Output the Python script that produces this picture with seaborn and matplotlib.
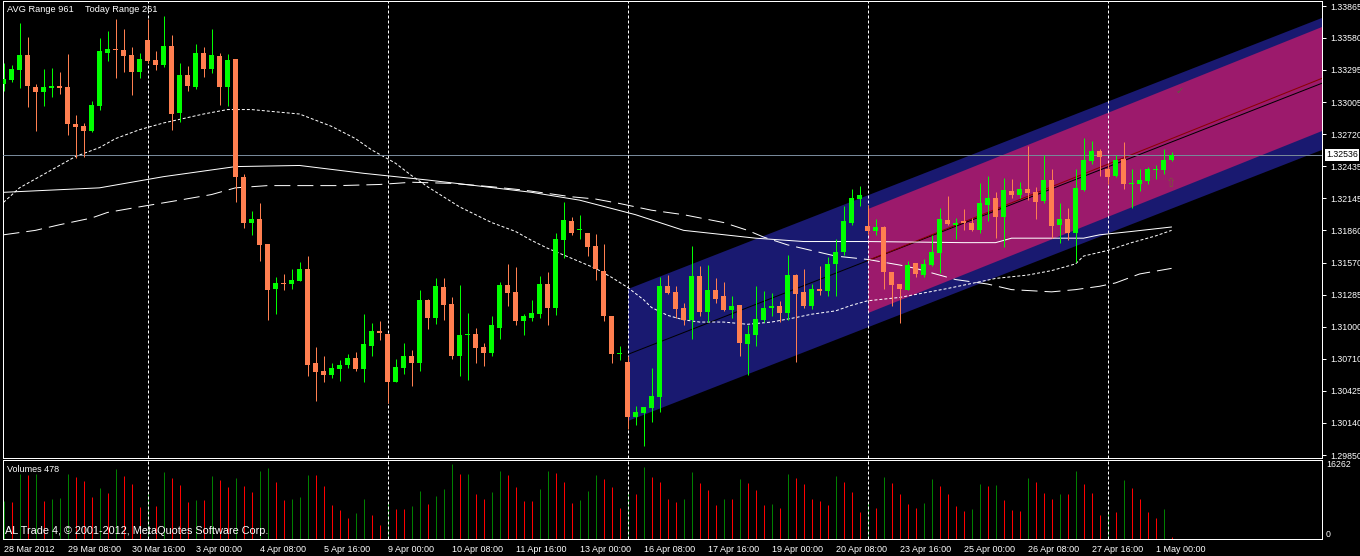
import numpy as np
import pandas as pd
import matplotlib
matplotlib.use("Agg")
import matplotlib.pyplot as plt
from matplotlib.transforms import blended_transform_factory
import seaborn as sns

# EURUSD-like H4 bars, 28 Mar 2012 00:00 .. 1 May 2012 08:00
opens = [1.3317, 1.3320, 1.3329, 1.3343, 1.3314, 1.3310, 1.3313, 1.3315, 1.3314, 1.3281,
         1.3279, 1.3275, 1.3297, 1.3345, 1.3348, 1.3347, 1.3343, 1.3328, 1.3356, 1.3338,
         1.3334, 1.3351, 1.3291, 1.3325, 1.3314, 1.3345, 1.3330, 1.3342, 1.3314, 1.3339,
         1.3234, 1.3193, 1.3196, 1.3174, 1.3134, 1.3139, 1.3138, 1.3141, 1.3151, 1.3067,
         1.3060, 1.3057, 1.3062, 1.3066, 1.3072, 1.3062, 1.3083, 1.3096, 1.3093, 1.3050,
         1.3063, 1.3074, 1.3067, 1.3124, 1.3108, 1.3135, 1.3120, 1.3074, 1.3092, 1.3093,
         1.3082, 1.3076, 1.3099, 1.3137, 1.3131, 1.3105, 1.3108, 1.3111, 1.3138, 1.3117,
         1.3177, 1.3194, 1.3186, 1.3184, 1.3172, 1.3150, 1.3109, 1.3075, 1.3068, 1.3019,
         1.3023, 1.3027, 1.3037, 1.3136, 1.3131, 1.3117, 1.3106, 1.3145, 1.3113, 1.3133,
         1.3127, 1.3115, 1.3119, 1.3084, 1.3092, 1.3106, 1.3117, 1.3118, 1.3112, 1.3146,
         1.3131, 1.3118, 1.3134, 1.3132, 1.3156, 1.3167, 1.3193, 1.3214, 1.3190, 1.3185,
         1.3189, 1.3149, 1.3138, 1.3133, 1.3157, 1.3146, 1.3155, 1.3166, 1.3195, 1.3191,
         1.3194, 1.3193, 1.3186, 1.3209, 1.3215, 1.3198, 1.3221, 1.3218, 1.3223, 1.3220,
         1.3212, 1.3231, 1.3191, 1.3196, 1.3184, 1.3222, 1.3248, 1.3257, 1.3241, 1.3235,
         1.3250, 1.3227, 1.3227, 1.3230, 1.3240, 1.3240, 1.3249]
highs = [1.3336, 1.3334, 1.3371, 1.3359, 1.3317, 1.3330, 1.3331, 1.3328, 1.3344, 1.3289,
         1.3282, 1.3302, 1.3358, 1.3364, 1.3375, 1.3366, 1.3350, 1.3345, 1.3375, 1.3346,
         1.3378, 1.3361, 1.3336, 1.3333, 1.3353, 1.3350, 1.3366, 1.3345, 1.3344, 1.3339,
         1.3236, 1.3203, 1.3210, 1.3174, 1.3144, 1.3147, 1.3151, 1.3158, 1.3163, 1.3082,
         1.3074, 1.3067, 1.3070, 1.3075, 1.3077, 1.3111, 1.3103, 1.3105, 1.3093, 1.3071,
         1.3085, 1.3079, 1.3133, 1.3125, 1.3143, 1.3143, 1.3126, 1.3137, 1.3112, 1.3099,
         1.3085, 1.3109, 1.3140, 1.3156, 1.3153, 1.3111, 1.3124, 1.3145, 1.3149, 1.3184,
         1.3211, 1.3198, 1.3200, 1.3184, 1.3183, 1.3174, 1.3109, 1.3083, 1.3074, 1.3029,
         1.3028, 1.3063, 1.3144, 1.3146, 1.3136, 1.3121, 1.3172, 1.3154, 1.3155, 1.3143,
         1.3140, 1.3127, 1.3119, 1.3101, 1.3136, 1.3132, 1.3130, 1.3123, 1.3164, 1.3147,
         1.3151, 1.3138, 1.3154, 1.3162, 1.3178, 1.3208, 1.3223, 1.3226, 1.3209, 1.3196,
         1.3190, 1.3149, 1.3138, 1.3159, 1.3157, 1.3160, 1.3182, 1.3206, 1.3217, 1.3197,
         1.3205, 1.3197, 1.3228, 1.3235, 1.3220, 1.3233, 1.3232, 1.3229, 1.3261, 1.3225,
         1.3253, 1.3241, 1.3210, 1.3206, 1.3241, 1.3269, 1.3266, 1.3259, 1.3245, 1.3253,
         1.3265, 1.3241, 1.3241, 1.3243, 1.3244, 1.3259, 1.3256]
lows = [1.3311, 1.3319, 1.3313, 1.3296, 1.3275, 1.3297, 1.3305, 1.3308, 1.3271, 1.3251,
        1.3252, 1.3274, 1.3294, 1.3337, 1.3322, 1.3328, 1.3307, 1.3322, 1.3336, 1.3329,
        1.3332, 1.3276, 1.3283, 1.3311, 1.3312, 1.3323, 1.3327, 1.3298, 1.3297, 1.3211,
        1.3188, 1.3182, 1.3159, 1.3106, 1.3111, 1.3133, 1.3134, 1.3141, 1.3056, 1.3033,
        1.3050, 1.3054, 1.3051, 1.3063, 1.3060, 1.3050, 1.3074, 1.3088, 1.3032, 1.3050,
        1.3058, 1.3047, 1.3060, 1.3098, 1.3102, 1.3106, 1.3071, 1.3056, 1.3052, 1.3067,
        1.3065, 1.3074, 1.3089, 1.3118, 1.3101, 1.3092, 1.3105, 1.3108, 1.3101, 1.3110,
        1.3161, 1.3182, 1.3178, 1.3163, 1.3142, 1.3105, 1.3067, 1.3070, 1.3008, 1.3012,
        1.2993, 1.3015, 1.3024, 1.3129, 1.3108, 1.3101, 1.3089, 1.3109, 1.3104, 1.3121,
        1.3114, 1.3108, 1.3074, 1.3057, 1.3083, 1.3104, 1.3109, 1.3104, 1.3106, 1.3068,
        1.3117, 1.3116, 1.3128, 1.3127, 1.3127, 1.3164, 1.3191, 1.3208, 1.3183, 1.3182,
        1.3134, 1.3118, 1.3103, 1.3133, 1.3144, 1.3144, 1.3154, 1.3148, 1.3191, 1.3178,
        1.3186, 1.3185, 1.3184, 1.3194, 1.3179, 1.3171, 1.3215, 1.3215, 1.3213, 1.3196,
        1.3210, 1.3179, 1.3175, 1.3177, 1.3158, 1.3221, 1.3245, 1.3235, 1.3227, 1.3234,
        1.3223, 1.3206, 1.3221, 1.3227, 1.3232, 1.3236, 1.3248]
closes = [1.3321, 1.3330, 1.3343, 1.3315, 1.3310, 1.3314, 1.3315, 1.3313, 1.3281, 1.3278,
          1.3275, 1.3298, 1.3346, 1.3348, 1.3347, 1.3342, 1.3328, 1.3339, 1.3337, 1.3334,
          1.3351, 1.3290, 1.3325, 1.3315, 1.3345, 1.3330, 1.3343, 1.3314, 1.3338, 1.3234,
          1.3193, 1.3196, 1.3173, 1.3133, 1.3139, 1.3138, 1.3142, 1.3151, 1.3066, 1.3059,
          1.3057, 1.3063, 1.3066, 1.3072, 1.3062, 1.3084, 1.3096, 1.3094, 1.3050, 1.3064,
          1.3074, 1.3067, 1.3124, 1.3108, 1.3136, 1.3119, 1.3074, 1.3092, 1.3093, 1.3081,
          1.3076, 1.3101, 1.3137, 1.3130, 1.3105, 1.3109, 1.3112, 1.3138, 1.3117, 1.3178,
          1.3195, 1.3184, 1.3187, 1.3171, 1.3151, 1.3109, 1.3075, 1.3076, 1.3019, 1.3024,
          1.3028, 1.3038, 1.3136, 1.3130, 1.3116, 1.3106, 1.3145, 1.3113, 1.3133, 1.3125,
          1.3115, 1.3118, 1.3085, 1.3093, 1.3107, 1.3117, 1.3118, 1.3112, 1.3146, 1.3129,
          1.3118, 1.3134, 1.3132, 1.3156, 1.3167, 1.3194, 1.3215, 1.3218, 1.3185, 1.3189,
          1.3149, 1.3137, 1.3134, 1.3155, 1.3147, 1.3156, 1.3167, 1.3196, 1.3192, 1.3193,
          1.3193, 1.3186, 1.3210, 1.3215, 1.3198, 1.3222, 1.3218, 1.3223, 1.3219, 1.3211,
          1.3231, 1.3190, 1.3196, 1.3184, 1.3224, 1.3249, 1.3257, 1.3252, 1.3234, 1.3249,
          1.3227, 1.3228, 1.3231, 1.3241, 1.3241, 1.3249, 1.32536]
volumes = [7850, 7645, 13414, 13275, 13414, 7854, 8201, 8410, 13414, 12788,
           11954, 8618, 10495, 9522, 14456, 12997, 11329, 6533, 9174, 6742,
           13831, 12580, 11120, 7645, 7993, 7950, 12997, 12163, 10703, 12580,
           10912, 9591, 14039, 14665, 11746, 7993, 8201, 8618, 13250, 13150,
           10912, 6950, 5908, 4240, 5282, 8201, 4865, 2780, 7367, 6116,
           6080, 6742, 9939, 7159, 8827, 10286, 15499, 13400, 13450, 9244,
           8201, 9661, 14039, 13205, 10703, 7923, 7784, 10286, 14039, 13622,
           11746, 7367, 7993, 9869, 13205, 12371, 10703, 6325, 9452, 9244,
           14873, 12788, 11746, 8201, 7645, 8201, 13831, 11537, 10078, 6950,
           8201, 8150, 12371, 11537, 10078, 6950, 7159, 6325, 13414, 12580,
           11329, 8201, 7784, 6950, 12997, 11746, 9661, 5491, 7367, 6325,
           12788, 11537, 9244, 7159, 6325, 7367, 12371, 10912, 9244, 6742,
           5699, 6116, 11329, 10912, 11120, 7993, 5908, 5699, 12580, 11746,
           9452, 8201, 9244, 9200, 14039, 11329, 9522, 4865, 5699, 5650,
           12163, 10495, 8201, 5491, 4240, 6116, 417]

# moving averages (bar index -> price)
ma_fast_bars = [0, 2, 6, 9, 12, 14, 17, 20, 25, 28, 31, 34, 37, 41, 44, 46, 49, 51, 53, 55,
                57, 59, 61, 64, 66, 68, 70, 72, 74, 76, 78, 80, 81, 83, 85, 87, 90, 93, 96, 99,
                101, 104, 106, 108, 112, 118, 122, 124, 128, 131, 134, 135, 138, 141, 144, 146]
ma_fast = [1.3211, 1.3224, 1.3240, 1.3252, 1.3260, 1.3268, 1.3276, 1.3282, 1.3290, 1.3294,
           1.3294, 1.3292, 1.3290, 1.3279, 1.3268, 1.3258, 1.3246, 1.3235, 1.3225, 1.3216,
           1.3207, 1.3200, 1.3193, 1.3185, 1.3177, 1.3170, 1.3164, 1.3158, 1.3152, 1.3144,
           1.3135, 1.3124, 1.3117, 1.3110, 1.3106, 1.3104, 1.3104, 1.3102, 1.3104, 1.3108,
           1.3111, 1.3114, 1.3119, 1.3123, 1.3126, 1.3134, 1.3140, 1.3143, 1.3146, 1.3150,
           1.3156, 1.3163, 1.3168, 1.3175, 1.3181, 1.3186]
ma_mid_bars = [0, 12, 20, 29, 37, 45, 53, 59, 66, 72, 79, 85, 94, 100, 108, 120, 124, 126,
               135, 137, 141, 146]
ma_mid = [1.3220, 1.3224, 1.3234, 1.3243, 1.3244, 1.3237, 1.3231, 1.3226, 1.3220, 1.3213,
          1.3200, 1.3186, 1.3179, 1.3176, 1.3176, 1.3175, 1.3175, 1.3179, 1.3179, 1.3182,
          1.3185, 1.3189]
ma_slow_bars = [0, 4, 7, 11, 13, 17, 22, 26, 29, 33, 37, 42, 47, 51, 56, 61, 65, 68, 71, 74,
                77, 81, 85, 90, 93, 95, 98, 104, 108, 112, 114, 119, 123, 126, 131, 134, 137,
                139, 142, 146]
ma_slow = [1.3182, 1.3186, 1.3191, 1.3197, 1.3202, 1.3207, 1.3213, 1.3218, 1.3224, 1.3226,
           1.3226, 1.3226, 1.3227, 1.3229, 1.3228, 1.3225, 1.3222, 1.3219, 1.3216, 1.3214,
           1.3210, 1.3204, 1.3200, 1.3193, 1.3186, 1.3180, 1.3173, 1.3163, 1.3160, 1.3155,
           1.3152, 1.3142, 1.3138, 1.3133, 1.3131, 1.3133, 1.3136, 1.3139, 1.3147, 1.3152]

# std-dev channels: mid price at first bar and at last bar, half width
blue_bars = [78, 146]
blue_mid = [1.3075, 1.3265]
blue_half = 0.0059
pink_bars = [108, 146]
pink_mid = [1.3159, 1.3268]
pink_half = 0.00465

sep_bars = [18, 48, 78, 108, 138]
time_bars = list(range(0, 145, 8))
time_labels = ["28 Mar 2012", "29 Mar 08:00", "30 Mar 16:00", "3 Apr 00:00", "4 Apr 08:00",
               "5 Apr 16:00", "9 Apr 00:00", "10 Apr 08:00", "11 Apr 16:00", "13 Apr 00:00",
               "16 Apr 08:00", "17 Apr 16:00", "19 Apr 00:00", "20 Apr 08:00", "23 Apr 16:00",
               "25 Apr 00:00", "26 Apr 08:00", "27 Apr 16:00", "1 May 00:00"]
price_ticks = [1.33865, 1.33580, 1.33295, 1.33005, 1.32720, 1.32435, 1.32145, 1.31860,
               1.31570, 1.31285, 1.31000, 1.30710, 1.30425, 1.30140, 1.29850]
bid = 1.32536
vol_max = 16262

sns.set_theme(style="dark", rc={"axes.facecolor": "black", "figure.facecolor": "black",
                                "axes.edgecolor": "white", "axes.grid": False,
                                "text.color": "white", "xtick.color": "white",
                                "ytick.color": "white"})
plt.rcParams["font.family"] = ["Liberation Sans", "DejaVu Sans"]
plt.rcParams["lines.scale_dashes"] = False

W, H = 1360, 556
PT = 0.72  # one pixel in points


def rect(x0, y0, x1, y1):
    return [x0 / W, 1 - y1 / H, (x1 - x0) / W, (y1 - y0) / H]


fig = plt.figure(figsize=(W / 100, H / 100), dpi=100)
ax = fig.add_axes(rect(2.5, 0.5, 1322, 457.5))
axv = fig.add_axes(rect(2.5, 460, 1322, 539), sharex=ax)

x_right = 164.8
idx = np.arange(len(opens))
o, h, l, c = map(np.array, (opens, highs, lows, closes))

# channels
for bars, mid, half, fill, line, z in [(blue_bars, blue_mid, blue_half, "#191970", "black", 1),
                                       (pink_bars, pink_mid, pink_half, "#9c1a6c", "#8b0000", 2)]:
    slope = (mid[1] - mid[0]) / (bars[1] - bars[0])
    xs = np.array([bars[0], x_right])
    m = mid[0] + slope * (xs - bars[0])
    ax.fill_between(xs, m - half, m + half, color=fill, lw=0, zorder=z)
    ax.plot(xs, m, color=line, lw=PT, zorder=3 + z * 0.1)

# moving averages
for bars, vals, ls in [(ma_fast_bars, ma_fast, (0, (3 * PT, 2 * PT))),
                       (ma_mid_bars, ma_mid, "-"),
                       (ma_slow_bars, ma_slow, (0, (16 * PT, 7 * PT)))]:
    sns.lineplot(x=bars, y=vals, ax=ax, color="white", lw=PT, linestyle=ls, zorder=4)

ax.axhline(bid, color="#778899", lw=PT, zorder=4.5)
for b in sep_bars:
    for a in (ax, axv):
        a.axvline(b, color="white", lw=PT, linestyle=(0, (3 * PT, 2 * PT)), zorder=5)

# candles
up = c >= o
cols = np.where(up, "#00ff00", "#ff7f50")
ax.vlines(idx, l, h, colors=cols, lw=PT, zorder=6)
ax.bar(idx, np.maximum(np.abs(c - o), 0.00009), bottom=np.minimum(o, c), width=0.62,
       color=cols, lw=0, zorder=7)

ax.text(145.9, 1.3228, "\u21e7", color="#7a5a38", fontsize=9, ha="center", va="center",
        family=["DejaVu Sans"], zorder=8)
ax.text(147.0, 1.3311, "\u2713", color="#55663a", fontsize=7, ha="center", va="center",
        family=["DejaVu Sans"], zorder=8)

ax.set_xlim(-0.125, x_right)
ax.set_ylim(1.29829, 1.33915)
ax.set_xlabel("")
ax.set_ylabel("")
ax.yaxis.tick_right()
ax.set_yticks(price_ticks)
ax.set_yticklabels([f"{p:.5f}" for p in price_ticks])
ax.tick_params(axis="y", colors="white", length=3, width=PT, pad=3, labelsize=6.3)
ax.tick_params(axis="x", bottom=False, labelbottom=False)
tr = blended_transform_factory(ax.transAxes, ax.transData)
ax.text(1.0 + 4 / 1320, bid, f"{bid:.5f}", transform=tr, color="black", fontsize=6.3,
        ha="left", va="center", zorder=10, clip_on=False,
        bbox=dict(boxstyle="square,pad=0.15", fc="white", ec="none"))

# volumes
v = np.array(volumes)
vup = np.r_[True, v[1:] > v[:-1]]
axv.vlines(idx, 0, v, colors=np.where(vup, "#008000", "#ff0000"), lw=PT, zorder=3)
axv.set_ylim(0, vol_max)
axv.set_yticks([])
trv = blended_transform_factory(axv.transAxes, axv.transData)
axv.text(1.0 + 4 / 1320, vol_max, str(vol_max), transform=trv, fontsize=6.3, color="white",
         ha="left", va="top", clip_on=False)
axv.text(1.0 + 4 / 1320, 0, "0", transform=trv, fontsize=6.3, color="white",
         ha="left", va="bottom", clip_on=False)
axv.set_xticks(time_bars)
axv.set_xticklabels(time_labels, ha="left")
axv.tick_params(axis="x", colors="white", length=3, width=PT, pad=1.5, labelsize=6.5)

for a in (ax, axv):
    for s in a.spines.values():
        s.set_color("white")
        s.set_linewidth(PT)

fig.text(7 / W, 1 - 9 / H, "AVG Range 961", fontsize=6.7, color="white", va="center")
fig.text(85 / W, 1 - 9 / H, "Today Range 261", fontsize=6.7, color="white", va="center")
fig.text(7 / W, 1 - 470 / H, "Volumes 478", fontsize=6.5, color="white", va="center")
fig.text(5 / W, 1 - 531 / H, "AL Trade 4, \u00a9 2001-2012, MetaQuotes Software Corp.",
         fontsize=7.8, color="white", va="center")

fig.savefig("out.png", dpi=100, facecolor="black")
